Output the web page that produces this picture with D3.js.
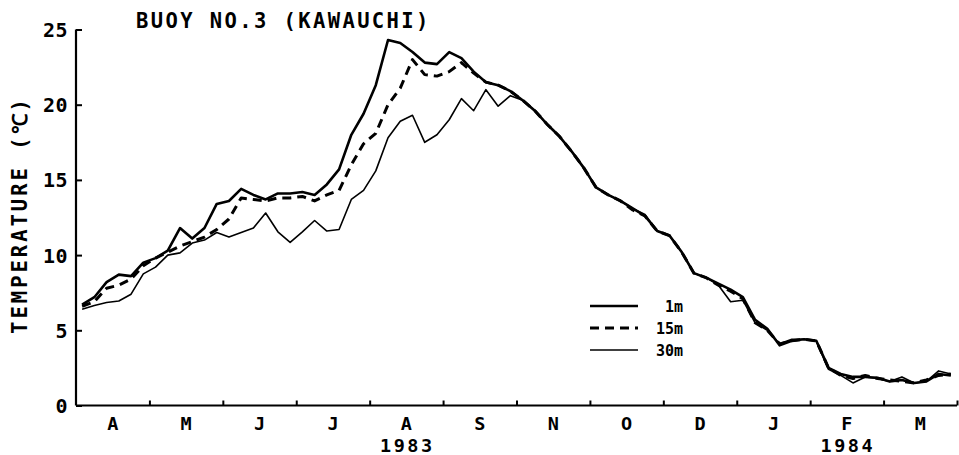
<!DOCTYPE html>
<html>
<head>
<meta charset="utf-8">
<script src="https://cdn.jsdelivr.net/npm/d3@7/dist/d3.min.js"></script>
<style>
  html, body { margin: 0; padding: 0; background: #fff; }
  svg { display: block; }
  text { font-family: "DejaVu Sans Mono", monospace; font-weight: bold; fill: #000; }
</style>
</head>
<body>
<svg id="chart" width="959" height="455"></svg>
<script>
// ---- data (half-monthly pentads, 6 per month, Apr 1983 - Mar 1984) ----
const monthLabels = ["A","M","J","J","A","S","N","O","D","J","F","M"];
const yearLabels = ["1983","1984"];
const yearMonthIndex = [4, 10];
const yTickValues = [0, 5, 10, 15, 20, 25];
const seriesNames = ["1m", "15m", "30m"];

const temp1m = [6.7,7.2,8.2,8.7,8.6,9.5,9.8,10.3,11.8,11.1,
  11.8,13.4,13.6,14.4,14.0,13.7,14.1,14.1,14.2,14.0,
  14.7,15.7,18.0,19.4,21.3,24.3,24.1,23.5,22.8,22.7,
  23.5,23.1,22.2,21.5,21.3,20.9,20.3,19.6,18.7,17.9,
  16.9,15.8,14.5,14.0,13.6,13.1,12.6,11.6,11.3,10.2,
  8.8,8.5,8.1,7.7,7.2,5.7,5.1,4.0,4.3,4.4,
  4.3,2.5,2.1,1.9,1.9,1.85,1.6,1.7,1.5,1.6,
  2.1,2.0];
const temp15m = [6.6,6.9,7.8,8.0,8.4,9.3,9.8,10.2,10.6,10.9,
  11.2,11.7,12.4,13.8,13.7,13.6,13.8,13.8,13.9,13.6,
  14.0,14.3,16.0,17.4,18.1,20.0,21.1,23.0,22.0,21.9,
  22.2,22.8,22.1,21.5,21.3,20.9,20.3,19.6,18.7,17.9,
  16.9,15.8,14.5,14.0,13.6,13.0,12.6,11.6,11.3,10.2,
  8.8,8.5,8.0,7.6,7.1,5.5,5.0,4.1,4.3,4.4,
  4.3,2.5,2.0,1.8,2.0,1.8,1.7,1.6,1.5,1.7,
  2.0,2.1];
const temp30m = [6.4,6.65,6.85,6.95,7.4,8.75,9.2,10.0,10.15,10.8,
  11.0,11.5,11.2,11.5,11.8,12.8,11.55,10.85,11.55,12.3,
  11.6,11.7,13.7,14.3,15.6,17.8,18.9,19.3,17.5,18.0,
  19.0,20.4,19.6,21.0,19.9,20.6,20.3,19.6,18.7,17.9,
  16.9,15.8,14.5,14.0,13.6,13.1,12.7,11.6,11.3,10.2,
  8.8,8.5,8.0,6.9,7.0,5.5,5.0,4.1,4.4,4.4,
  4.3,2.4,2.0,1.5,1.9,1.8,1.6,1.9,1.5,1.6,
  2.3,2.1];

// ---- layout ----
const svg = d3.select("#chart");
const plotLeft = 76, plotRight = 957, plotTop = 29.5, plotBottom = 405.5;
const nPerMonth = 6, nMonths = monthLabels.length;

const x = d3.scaleLinear().domain([0, nMonths * nPerMonth]).range([plotLeft, plotRight]);
const y = d3.scaleLinear().domain([0, 25]).range([plotBottom, plotTop]);

// y axis
const yAxis = d3.axisRight(y).tickValues(yTickValues).tickSize(6).tickFormat("");
const gy = svg.append("g").attr("transform", `translate(${plotLeft},0)`).call(yAxis);
gy.select(".domain").attr("d", `M0,${plotTop}V${plotBottom}`).attr("stroke", "#000").attr("stroke-width", 2.2);
gy.selectAll(".tick line").attr("stroke", "#000").attr("stroke-width", 2);
svg.append("g").selectAll("text").data(yTickValues).join("text")
  .attr("x", 68).attr("y", d => y(d) + 7.5)
  .attr("text-anchor", "end")
  .attr("font-size", 20).attr("letter-spacing", 0.5)
  .text(d => d);

// x axis
const monthTicks = d3.range(1, nMonths + 1).map(m => m * nPerMonth);
const xAxis = d3.axisTop(x).tickValues(monthTicks).tickSize(5).tickFormat("");
const gx = svg.append("g").attr("transform", `translate(0,${plotBottom})`).call(xAxis);
gx.select(".domain").attr("d", `M${plotLeft},0H${plotRight}`).attr("stroke", "#000").attr("stroke-width", 2.2);
gx.selectAll(".tick line").attr("stroke", "#000").attr("stroke-width", 2);

svg.append("g").selectAll("text").data(monthLabels).join("text")
  .attr("x", (d, i) => x(i * nPerMonth + nPerMonth / 2))
  .attr("y", 430)
  .attr("text-anchor", "middle")
  .attr("font-size", 18.5)
  .text(d => d);
svg.append("g").selectAll("text").data(yearLabels).join("text")
  .attr("x", (d, i) => x(yearMonthIndex[i] * nPerMonth + nPerMonth / 2) + 1)
  .attr("y", 452)
  .attr("text-anchor", "middle")
  .attr("font-size", 18.5).attr("letter-spacing", 2.5)
  .text(d => d);

// title & y label
svg.append("text").attr("x", 136).attr("y", 28)
  .attr("font-size", 20.5).attr("letter-spacing", 2.4)
  .text("BUOY NO.3 (KAWAUCHI)");
svg.append("text")
  .attr("transform", "translate(27,215) rotate(-90)")
  .attr("text-anchor", "middle")
  .attr("font-size", 20.5).attr("letter-spacing", 3)
  .text("TEMPERATURE (℃)");

// lines
const line = d3.line().x((d, i) => x(i + 0.5)).y(d => y(d));
const styles = [
  { data: temp30m, w: 1.6, dash: null },
  { data: temp15m, w: 3, dash: "9,6" },
  { data: temp1m, w: 2.6, dash: null }
];
styles.forEach(s => {
  svg.append("path").datum(s.data)
    .attr("d", line)
    .attr("fill", "none").attr("stroke", "#000")
    .attr("stroke-width", s.w)
    .attr("stroke-linejoin", "round")
    .attr("stroke-dasharray", s.dash);
});

// legend
const legendStyles = [
  { w: 2.6, dash: null },
  { w: 3, dash: "9,6" },
  { w: 1.6, dash: null }
];
const lg = svg.append("g");
seriesNames.forEach((name, i) => {
  const yy = 306 + i * 22;
  lg.append("line").attr("x1", 590).attr("x2", 638).attr("y1", yy).attr("y2", yy)
    .attr("stroke", "#000").attr("stroke-width", legendStyles[i].w)
    .attr("stroke-dasharray", legendStyles[i].dash);
  lg.append("text").attr("x", 683).attr("y", yy + 5.5)
    .attr("text-anchor", "end").attr("font-size", 15)
    .text(name);
});
</script>
</body>
</html>
